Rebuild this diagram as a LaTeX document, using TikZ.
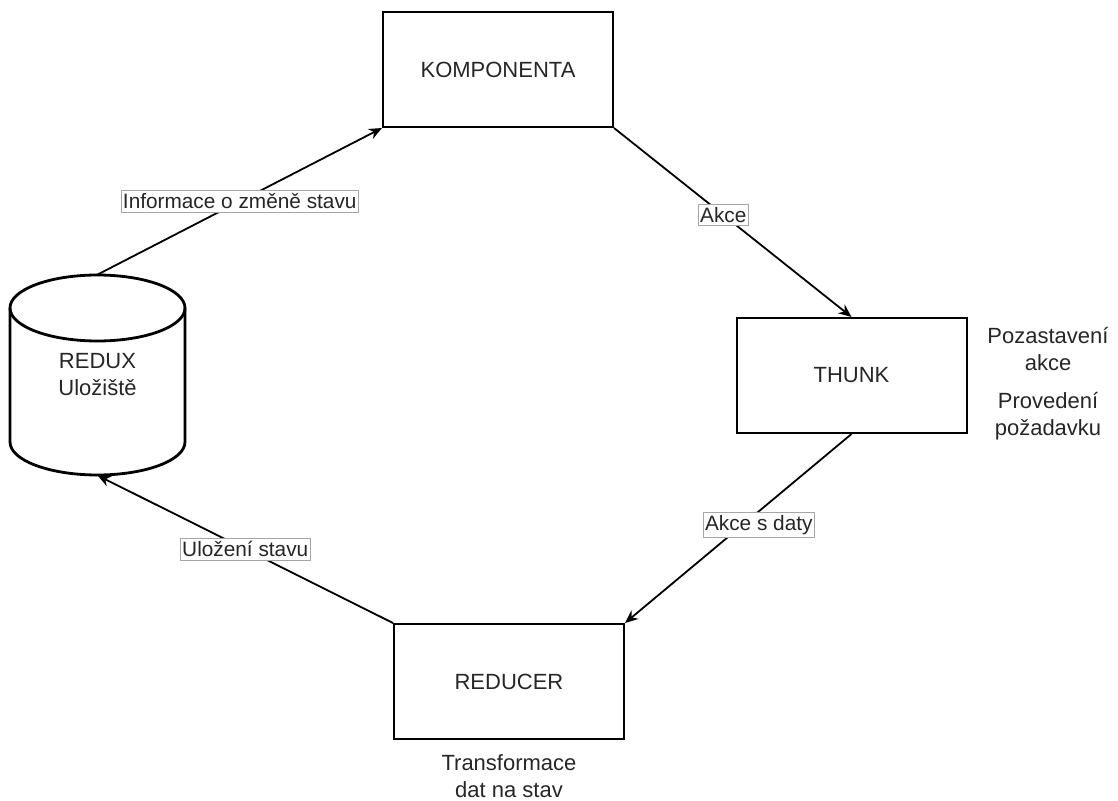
\documentclass[tikz,border=0pt]{standalone}
\usepackage{fontspec}
\setmainfont{Liberation Sans}
\usetikzlibrary{arrows.meta}

\tikzset{
  box/.style={draw, line width=1pt, minimum width=115pt, minimum height=57.5pt,
    font=\fontsize{11}{13}\selectfont, text=black!85},
  flow/.style={-{Stealth[length=6.5pt,width=5.5pt]}, line width=0.9pt},
  lbl/.style={draw=black!35, line width=0.4pt, fill=white, inner xsep=1pt, inner ysep=1.5pt,
    font=\fontsize{10.4}{12}\selectfont, text=black!85},
  note/.style={align=center, font=\fontsize{11}{13.5}\selectfont, text=black!85},
}

\begin{document}
\begin{tikzpicture}[x=0.5pt, y=0.5pt]
    \useasboundingbox (0,0) rectangle (1118,-801);

    % Uloziste (valec)
    \draw[line width=1.4pt, fill=white] (10,-308) -- (10,-442)
        arc[start angle=180, end angle=360, x radius=87.5, y radius=33] -- (185,-308);
    \draw[line width=1.4pt] (97.5,-308) ellipse[x radius=87.5, y radius=33];
    \node[note, minimum width=87.5pt, minimum height=100pt, inner sep=0pt] (store) at (97.5,-375) {REDUX\\Uložiště};

    % Bloky
    \node[box] (komp) at (498,-69.5) {KOMPONENTA};
    \node[box] (thunk) at (851.5,-375.5) {THUNK};
    \node[box] (reducer) at (509,-681.5) {REDUCER};

    % Popisky
    \node[note] (pause) at (1048,-349) {Pozastavení\\akce};
    \node[note] (exec) at (1048,-416) {Provedení\\požadavku};
    \node[note] (trans) at (509,-776) {Transformace\\dat na stav};

    % Tok dat
    \draw[flow] (store.north) -- (komp.south west) node[lbl, midway] (l1) {Informace o změně stavu};
    \draw[flow] (komp.south east) -- (thunk.north) node[lbl, pos=0.46] (l2) {Akce};
    \draw[flow] (thunk.south) -- (reducer.north east) node[lbl, pos=0.48, xshift=8pt] (l3) {Akce s daty};
    \draw[flow] (reducer.north west) -- (store.south) node[lbl, midway] (l4) {Uložení stavu};
\end{tikzpicture}
\end{document}
